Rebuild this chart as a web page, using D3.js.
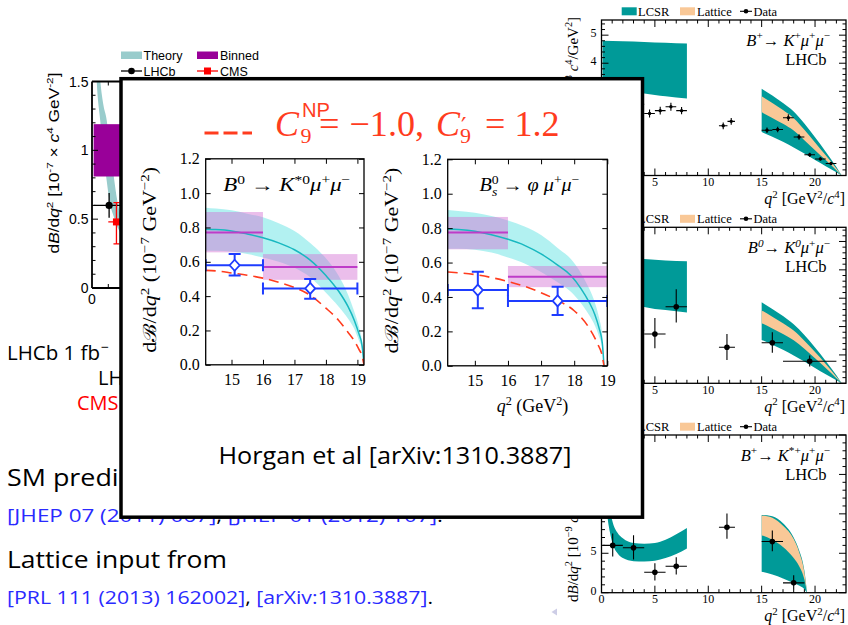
<!DOCTYPE html>
<html>
<head>
<meta charset="utf-8">
<script src="https://cdn.jsdelivr.net/npm/d3@7"></script>
<style>
  html, body { margin: 0; padding: 0; background: #fff; }
  svg { display: block; }
</style>
</head>
<body>
<svg id="slide" width="848" height="625"></svg>
<script>
// ---------- B0 -> K*0 mu mu, lowest q2 bin (left panel) ----------
const lowQ2 = [0.2, 0.3, 0.5, 0.7, 0.9, 1.1, 1.3, 1.5, 1.7, 2.0];
const lowTheoryLo = [1.75, 1.48, 1.22, 0.98, 0.78, 0.61, 0.53, 0.46, 0.41, 0.36];
const lowTheoryHi = [2.2, 1.9, 1.52, 1.33, 1.22, 1.0, 0.84, 0.67, 0.55, 0.48];
const lowBin = [0.1, 2.0];
const lowBinnedRange = [0.81, 1.19];
const lhcbLow = [1.05, 0.60, 0.51, 0.69];      // q2, value, low, high
const lhcbLowBin = [0.1, 2.0];
const cmsLow = [1.5, 0.48, 0.32, 0.62];
const cmsLowBin = [1.0, 2.0];

// ---------- LHCb differential branching fractions (right column) ----------
// B+ -> K+ mu mu  [1e-8]
const kpBins = [[0.1,0.98],[1.1,2],[2,3],[3,4],[4,5],[5,6],[6,7],[7,8],[11,11.8],[11.8,12.5],[15,16],[16,17],[17,18],[18,19],[19,20],[20,21],[21,22]];
const kpValues = [3.32,2.33,2.82,2.54,2.21,2.31,2.45,2.31,1.77,1.93,1.61,1.64,2.06,1.37,0.74,0.59,0.43];
const kpErrors = [0.18,0.15,0.16,0.15,0.14,0.14,0.14,0.13,0.12,0.12,0.10,0.10,0.12,0.10,0.07,0.06,0.05];
const kpLowQ2 = [0.1, 2, 4, 6, 8];
const kpLcsrLowHi = [4.8, 4.78, 4.76, 4.73, 4.7];
const kpLcsrLowLo = [3.3, 3.1, 2.92, 2.82, 2.74];
const highQ2K = [15, 16, 17, 18, 19, 20, 21, 22, 22.5];
const kpLcsrHi = [3.09, 2.85, 2.58, 2.28, 1.85, 1.36, 0.85, 0.3, 0];
const kpLcsrLo = [1.55, 1.38, 1.2, 1.0, 0.78, 0.55, 0.33, 0.12, 0];
const kpLatHi = [2.82, 2.58, 2.33, 2.04, 1.63, 1.18, 0.72, 0.25, 0];
const kpLatLo = [2.25, 2.05, 1.84, 1.6, 1.26, 0.9, 0.55, 0.19, 0];

// B0 -> K0 mu mu  [1e-8]
const k0Bins = [[0.1,2],[2,4],[4,6],[6,8],[11,12.5],[15,17],[17,22]];
const k0Values = [1.22,1.87,1.74,2.70,1.27,1.43,0.78];
const k0ErrLo = [0.52,0.55,0.50,0.56,0.45,0.35,0.19];
const k0ErrHi = [0.59,0.55,0.56,0.62,0.47,0.37,0.20];
const k0LowQ2 = [0.1, 2, 4, 6, 8];
const k0LcsrLowHi = [4.5, 4.45, 4.38, 4.33, 4.3];
const k0LcsrLowLo = [3.2, 2.95, 2.69, 2.58, 2.5];
const k0LcsrHi = [2.86, 2.62, 2.37, 2.08, 1.7, 1.26, 0.79, 0.28, 0];
const k0LcsrLo = [1.53, 1.36, 1.18, 0.98, 0.77, 0.54, 0.32, 0.11, 0];
const k0LatHi = [2.57, 2.35, 2.12, 1.86, 1.5, 1.1, 0.68, 0.23, 0];
const k0LatLo = [2.12, 1.93, 1.74, 1.52, 1.22, 0.88, 0.54, 0.18, 0];

// B+ -> K*+ mu mu  [1e-9]
const ksBins = [[0.1,2],[2,4],[4,6],[6,8],[11,12.5],[15,17],[17,19]];
const ksValues = [6.0,5.7,2.6,3.35,8.3,6.5,1.25];
const ksErrLo = [1.4,1.5,1.05,1.05,1.45,1.25,0.85];
const ksErrHi = [1.5,1.6,1.15,1.15,1.75,1.4,0.95];
const ksLowQ2 = [0.1,0.3,0.5,0.8,1.0,1.5,2,3,4,5,6,7,8];
const ksLcsrLowHi = [30,19,14,10.5,9.2,7.6,6.9,6.3,6.2,6.3,6.7,7.4,8.2];
const ksLcsrLowLo = [24,14.5,10.5,7.6,6.4,5.0,4.4,4.0,3.95,4.05,4.4,4.9,5.6];
const highQ2Ks = [15, 16, 17, 18, 18.5, 19, 19.25];
const ksLcsrHi = [9.85, 9.7, 8.8, 7.0, 5.4, 2.8, 0];
const ksLcsrLo = [2.66, 2.3, 1.8, 1.2, 0.9, 0.45, 0];
const ksLatHi = [9.8, 9.5, 8.5, 6.8, 5.2, 2.6, 0];
const ksLatLo = [7.3, 6.7, 5.8, 4.4, 3.4, 1.7, 0];

// ---------- high-q2 SM lattice prediction vs. data (overlay) ----------
// B0 -> K*0 mu mu  [1e-7 GeV^-2]
const kstQ2 = [14.18,14.5,15.0,15.5,16.0,16.5,17.0,17.5,18.0,18.4,18.7,18.9,19.05,19.15,19.21];
const kstSM = [0.79,0.788,0.78,0.762,0.74,0.71,0.67,0.61,0.52,0.43,0.34,0.26,0.18,0.11,0];
const kstSMHi = [0.915,0.91,0.9,0.88,0.86,0.825,0.78,0.71,0.62,0.52,0.41,0.31,0.22,0.13,0];
const kstSMLo = [0.665,0.665,0.66,0.645,0.625,0.6,0.565,0.51,0.42,0.34,0.27,0.21,0.14,0.09,0];
const kstNP = [0.55,0.547,0.535,0.522,0.505,0.48,0.45,0.405,0.33,0.26,0.19,0.14,0.09,0.05,0];
const kstBinEdges = [[14.18,16],[16,19]];
const kstBinSM = [0.77, 0.57];
const kstBinSMLo = [0.655, 0.495];
const kstBinSMHi = [0.89, 0.645];
const kstDataQ2 = [15.1, 17.5];
const kstData = [0.58, 0.445];
const kstDataLo = [0.52, 0.385];
const kstDataHi = [0.645, 0.50];

// Bs -> phi mu mu  [1e-7 GeV^-2]
const phiQ2 = [14.18,14.5,15,15.5,16,16.5,17,17.5,17.9,18.2,18.45,18.62,18.75,18.85,18.9];
const phiSM = [0.795,0.792,0.782,0.762,0.735,0.70,0.65,0.585,0.525,0.45,0.37,0.3,0.22,0.13,0];
const phiSMHi = [0.905,0.9,0.89,0.87,0.845,0.81,0.76,0.685,0.62,0.54,0.45,0.37,0.28,0.17,0];
const phiSMLo = [0.68,0.68,0.675,0.658,0.63,0.595,0.545,0.485,0.43,0.365,0.295,0.235,0.17,0.1,0];
const phiNPQ2 = [14.18,15,16,16.5,17,17.5,18,18.4,18.7,18.85,18.9];
const phiNP = [0.545,0.53,0.49,0.462,0.425,0.38,0.32,0.235,0.13,0.055,0];
const phiBinEdges = [[14.18,16],[16,19]];
const phiBinSM = [0.775, 0.518];
const phiBinSMLo = [0.677, 0.457];
const phiBinSMHi = [0.865, 0.58];
const phiDataQ2 = [15.09, 17.5];
const phiData = [0.44, 0.377];
const phiDataLo = [0.335, 0.295];
const phiDataHi = [0.546, 0.46];

const yTicksInner = [0, 0.2, 0.4, 0.6, 0.8, 1.0, 1.2];
const xTicksInner = [15, 16, 17, 18, 19];

// ---------- drawing ----------
const svg = d3.select("#slide");
const SERIF = "'Liberation Serif','DejaVu Serif',serif";
const SANS = "'Liberation Sans','DejaVu Sans',sans-serif";
const SLIDE = "'Open Sans','DejaVu Sans',sans-serif";
const TEAL = "#009a98", PEACH = "#f9c897";
const RED = "#ff3c1e", BLUE = "#1e3cff";

// text with super/subscript runs: parts = [[text, mode, dx]]
function rich(sel, parts, size) {
  let shift = 0;
  parts.forEach(([txt, mode = "", dx]) => {
    const ts = sel.append("tspan").text(txt);
    let target = 0, fs = size;
    if (mode.startsWith("sup")) { target = -0.4 * size; fs = 0.68 * size; }
    else if (mode.startsWith("sub")) { target = 0.25 * size; fs = 0.68 * size; }
    ts.attr("font-size", fs);
    if (mode.endsWith("i")) ts.attr("font-style", "italic");
    if (target !== shift) { ts.attr("dy", target - shift); shift = target; }
    if (dx) ts.attr("dx", dx);
  });
  return sel;
}
function label(parent, x, y, o = {}) {
  const t = parent.append("text").attr("x", x).attr("y", y)
    .attr("font-family", o.family || SERIF).attr("font-size", o.size || 12)
    .attr("fill", o.fill || "#000").attr("text-anchor", o.anchor || "start");
  if (o.italic) t.attr("font-style", "italic");
  if (o.transform) t.attr("transform", o.transform).attr("x", 0).attr("y", 0);
  if (o.text !== undefined) t.text(o.text);
  if (o.parts) rich(t, o.parts, o.size || 12);
  if (o.len) t.attr("textLength", o.len).attr("lengthAdjust", "spacingAndGlyphs");
  if (o.stretch) t.attr("textLength", t.node().getComputedTextLength() * o.stretch).attr("lengthAdjust", "spacingAndGlyphs");
  return t;
}
function seg(parent, x1, y1, x2, y2, color, w) {
  return parent.append("line").attr("x1", x1).attr("y1", y1).attr("x2", x2).attr("y2", y2)
    .attr("stroke", color).attr("stroke-width", w);
}

// ===== left: LHCb 1/fb & CMS vs theory, low q2 =====
(function () {
  const g = svg.append("g");
  const x = d3.scaleLinear().domain([0, 19]).range([92, 92 + 19 * 16.3]);
  const y = d3.scaleLinear().domain([0, 1.5]).range([288, 81.5]);
  g.append("clipPath").attr("id", "clipLow").append("rect")
    .attr("x", x(0)).attr("y", y(1.5)).attr("width", x(19) - x(0)).attr("height", y(0) - y(1.5));
  const p = g.append("g").attr("clip-path", "url(#clipLow)");
  p.append("path")
    .attr("d", d3.area().x(q => x(q)).y0((q, i) => y(lowTheoryLo[i])).y1((q, i) => y(lowTheoryHi[i]))
      .curve(d3.curveMonotoneX)(lowQ2))
    .attr("fill", "#99cccc");
  p.append("rect").attr("x", x(lowBin[0])).attr("width", x(lowBin[1]) - x(lowBin[0]))
    .attr("y", y(lowBinnedRange[1])).attr("height", y(lowBinnedRange[0]) - y(lowBinnedRange[1]))
    .attr("fill", "#990099");
  // LHCb
  seg(p, x(lhcbLowBin[0]), y(lhcbLow[1]), x(lhcbLowBin[1]), y(lhcbLow[1]), "#000", 1.3);
  seg(p, x(lhcbLow[0]), y(lhcbLow[2]), x(lhcbLow[0]), y(lhcbLow[3]), "#000", 1.3);
  p.append("circle").attr("cx", x(lhcbLow[0])).attr("cy", y(lhcbLow[1])).attr("r", 3.6).attr("fill", "#000");
  // CMS
  seg(p, x(cmsLowBin[0]), y(cmsLow[1]), x(cmsLowBin[1]), y(cmsLow[1]), "#ff0000", 1.3);
  seg(p, x(cmsLow[0]), y(cmsLow[2]), x(cmsLow[0]), y(cmsLow[3]), "#ff0000", 1.3);
  seg(p, x(cmsLow[0]) - 3, y(cmsLow[2]), x(cmsLow[0]) + 3, y(cmsLow[2]), "#ff0000", 1.3);
  seg(p, x(cmsLow[0]) - 3, y(cmsLow[3]), x(cmsLow[0]) + 3, y(cmsLow[3]), "#ff0000", 1.3);
  p.append("rect").attr("x", x(cmsLow[0]) - 3.5).attr("y", y(cmsLow[1]) - 3.5)
    .attr("width", 7).attr("height", 7).attr("fill", "#ff0000");
  // frame
  seg(g, x(0), y(0), x(0), y(1.5), "#000", 1.8);
  seg(g, x(0), y(1.5), x(19), y(1.5), "#000", 1.8);
  seg(g, x(0), y(0), x(19), y(0), "#000", 1.8);
  d3.range(0, 16).forEach(k => {
    const v = k / 10, len = k % 5 === 0 ? 6 : 3.5;
    seg(g, x(0), y(v), x(0) + len, y(v), "#000", 1);
  });
  d3.range(1, 19).forEach(q => {
    seg(g, x(q), y(0), x(q), y(0) - 4, "#000", 1);
    seg(g, x(q), y(1.5), x(q), y(1.5) + 4, "#000", 1);
  });
  [[0, "0"], [0.5, "0.5"], [1, "1"], [1.5, "1.5"]].forEach(([v, s]) =>
    label(g, 88.5, y(v) + 5, { text: s, family: SANS, size: 14, anchor: "end" }));
  label(g, x(0), 304, { text: "0", family: SANS, size: 14, anchor: "middle" });
  label(g, 0, 0, {
    family: SANS, size: 14.5, anchor: "middle", transform: "translate(59,163) rotate(-90)", len: 181,
    parts: [["d"], ["B", "i"], ["/d"], ["q", "i"], ["2", "sup"], [" [10"], ["-7", "sup"], [" \u00d7 "],
      ["c", "i"], ["4", "sup"], [" GeV"], ["-2", "sup"], ["]"]]
  });
  // legend
  g.append("rect").attr("x", 121).attr("y", 51.5).attr("width", 21).attr("height", 7.5).attr("fill", "#99cccc");
  label(g, 143.5, 60, { text: "Theory", family: SANS, size: 12.5 });
  g.append("rect").attr("x", 197).attr("y", 51.5).attr("width", 21).attr("height", 7.5).attr("fill", "#990099");
  label(g, 220, 60, { text: "Binned", family: SANS, size: 12.5 });
  seg(g, 121, 71, 142, 71, "#000", 1.3);
  g.append("circle").attr("cx", 131.5).attr("cy", 71).attr("r", 3.3).attr("fill", "#000");
  label(g, 143.5, 75.5, { text: "LHCb", family: SANS, size: 12.5 });
  seg(g, 197, 71, 218, 71, "#ff0000", 1.3);
  g.append("rect").attr("x", 204).attr("y", 67.5).attr("width", 7).attr("height", 7).attr("fill", "#ff0000");
  label(g, 220, 75.5, { text: "CMS", family: SANS, size: 12.5 });
})();

// ===== right column: LHCb B -> K(*) mu mu spectra =====
const rx = d3.scaleLinear().domain([0, 22.9]).range([601.5, 846]);
function lhcbPanel(p) {
  const g = svg.append("g");
  const y = d3.scaleLinear().domain([0, p.yMax]).range([p.bottom, p.top]);
  g.append("clipPath").attr("id", p.id).append("rect")
    .attr("x", rx(0)).attr("y", p.top).attr("width", rx(22.9) - rx(0)).attr("height", p.bottom - p.top);
  const plot = g.append("g").attr("clip-path", `url(#${p.id})`);
  const band = (qs, lo, hi) => d3.area().x(q => rx(q)).y0((q, i) => y(lo[i])).y1((q, i) => y(hi[i]))
    .curve(d3.curveMonotoneX)(qs);
  plot.append("path").attr("d", band(p.lowQ2, p.lowLo, p.lowHi)).attr("fill", TEAL);
  plot.append("path").attr("d", band(p.highQ2, p.lcsrLo, p.lcsrHi)).attr("fill", TEAL);
  plot.append("path").attr("d", band(p.highQ2, p.latLo, p.latHi)).attr("fill", PEACH);
  p.bins.forEach((b, i) => {
    const v = p.values[i], xc = rx((b[0] + b[1]) / 2);
    seg(plot, rx(b[0]), y(v), rx(b[1]), y(v), "#000", 1.1);
    seg(plot, xc, y(v - p.errLo[i]), xc, y(v + p.errHi[i]), "#000", 1.1);
    plot.append("circle").attr("cx", xc).attr("cy", y(v)).attr("r", p.markR).attr("fill", "#000");
  });
  g.append("rect").attr("x", rx(0)).attr("y", p.top).attr("width", rx(22.9) - rx(0))
    .attr("height", p.bottom - p.top).attr("fill", "none").attr("stroke", "#000").attr("stroke-width", 1.3);
  d3.range(0, 23).forEach(q => {
    const len = q % 5 === 0 ? 7 : 3.5;
    seg(g, rx(q), p.bottom, rx(q), p.bottom - len, "#000", 1);
    seg(g, rx(q), p.top, rx(q), p.top + len, "#000", 1);
  });
  const nMinor = Math.floor(p.yMax / p.yMinor + 1e-6);
  d3.range(0, nMinor + 1).forEach(k => {
    const v = k * p.yMinor;
    const r = v / p.yMajor, len = Math.abs(r - Math.round(r)) < 1e-6 ? 7 : 3.5;
    seg(g, rx(0), y(v), rx(0) + len, y(v), "#000", 1);
    seg(g, rx(22.9), y(v), rx(22.9) - len, y(v), "#000", 1);
  });
  p.xTickLabels.forEach(q => label(g, rx(q), p.bottom + 10.5, { text: q, size: 12, anchor: "middle" }));
  d3.range(0, p.yMax + 1e-6, p.yMajor).forEach(v =>
    label(g, 596.5, y(v) + 2, { text: v, size: 12, anchor: "end" }));
  label(g, 845, p.bottom + 28.5, {
    size: 16, anchor: "end",
    parts: [["q", "i"], ["2", "sup"], [" [GeV"], ["2", "sup"], ["/"], ["c", "i"], ["4", "sup"], ["]"]]
  });
  label(g, 0, 0, {
    size: 15, anchor: p.yLabAnchor, transform: p.yLabPos,
    parts: [["d"], ["B", "i"], ["/d"], ["q", "i"], ["2", "sup"], [" [10"], [p.yUnit, "sup"], [" "],
      ["c", "i"], ["4", "sup"], ["/GeV"], ["2", "sup"], ["]"]]
  });
  label(g, 830, p.top + 26, { size: 16.5, anchor: "end", parts: p.title });
  label(g, 826.5, p.top + 45, { text: "LHCb", size: 16.5, anchor: "end" });
  // legend
  const ly = p.legendY;
  g.append("rect").attr("x", 621.7).attr("y", ly - 4).attr("width", 15).attr("height", 8).attr("fill", TEAL);
  label(g, 638, ly + 4.5, { text: "LCSR", size: 12.5 });
  g.append("rect").attr("x", 680).attr("y", ly - 4).attr("width", 15).attr("height", 8).attr("fill", PEACH);
  label(g, 697, ly + 4.5, { text: "Lattice", size: 12.5 });
  seg(g, 740, ly, 752, ly, "#000", 1.1);
  g.append("circle").attr("cx", 746).attr("cy", ly).attr("r", 2.3).attr("fill", "#000");
  label(g, 753.5, ly + 4.5, { text: "Data", size: 12.5 });
}

lhcbPanel({
  id: "clipKp", top: 20, bottom: 175.5, yMax: 5.54, yMajor: 1, yMinor: 0.2, legendY: 11.3,
  xTickLabels: [5, 10, 15, 20],
  lowQ2: kpLowQ2, lowLo: kpLcsrLowLo, lowHi: kpLcsrLowHi,
  highQ2: highQ2K, lcsrLo: kpLcsrLo, lcsrHi: kpLcsrHi, latLo: kpLatLo, latHi: kpLatHi,
  bins: kpBins, values: kpValues, errLo: kpErrors, errHi: kpErrors, markR: 1.7,
  yUnit: "\u22128", yLabAnchor: "end", yLabPos: "translate(578,17) rotate(-90)",
  title: [["B", "i"], ["+", "sup"], ["\u2192 "], ["K", "i"], ["+", "sup"], ["\u03bc", "i"], ["+", "sup"], ["\u03bc", "i"], ["\u2212", "sup"]]
});
lhcbPanel({
  id: "clipK0", top: 227.3, bottom: 383.3, yMax: 5.5, yMajor: 1, yMinor: 0.2, legendY: 218.8,
  xTickLabels: [5, 10, 15, 20],
  lowQ2: k0LowQ2, lowLo: k0LcsrLowLo, lowHi: k0LcsrLowHi,
  highQ2: highQ2K, lcsrLo: k0LcsrLo, lcsrHi: k0LcsrHi, latLo: k0LatLo, latHi: k0LatHi,
  bins: k0Bins, values: k0Values, errLo: k0ErrLo, errHi: k0ErrHi, markR: 2.8,
  yUnit: "\u22128", yLabAnchor: "middle", yLabPos: "translate(578,305) rotate(-90)",
  title: [["B", "i"], ["0", "supi"], ["\u2192 "], ["K", "i"], ["0", "supi"], ["\u03bc", "i"], ["+", "sup"], ["\u03bc", "i"], ["\u2212", "sup"]]
});
lhcbPanel({
  id: "clipKs", top: 435, bottom: 592.7, yMax: 20, yMajor: 5, yMinor: 1, legendY: 426.7,
  xTickLabels: [0, 5, 10, 15, 20],
  lowQ2: ksLowQ2, lowLo: ksLcsrLowLo, lowHi: ksLcsrLowHi,
  highQ2: highQ2Ks, lcsrLo: ksLcsrLo, lcsrHi: ksLcsrHi, latLo: ksLatLo, latHi: ksLatHi,
  bins: ksBins, values: ksValues, errLo: ksErrLo, errHi: ksErrHi, markR: 2.8,
  yUnit: "\u22129", yLabAnchor: "start", yLabPos: "translate(578,602) rotate(-90)",
  title: [["B", "i"], ["+", "sup"], ["\u2192 "], ["K", "i"], ["*+", "sup"], ["\u03bc", "i"], ["+", "sup"], ["\u03bc", "i"], ["\u2212", "sup"]]
});

// ===== slide text =====
const txt = svg.append("g");
label(txt, 7, 360, { family: SLIDE, size: 20, len: 93, text: "LHCb 1 fb" });
label(txt, 101, 352, { family: SLIDE, size: 14, text: "\u2212" });
label(txt, 98, 385, { family: SLIDE, size: 20, text: "LHCb" });
label(txt, 77, 410, { family: SLIDE, size: 20, text: "CMS", fill: "#ff0000" });
label(txt, 7, 486, { family: SLIDE, size: 24, stretch: 1.12, text: "SM predictions from" });
const ref1 = label(txt, 7, 522, { family: SLIDE, size: 19 });
ref1.append("tspan").attr("fill", "#2a2aff").text("[JHEP 07 (2011) 067]");
ref1.append("tspan").text(", ");
ref1.append("tspan").attr("fill", "#2a2aff").text("[JHEP 01 (2012) 107]");
ref1.append("tspan").text(".");
ref1.attr("textLength", 436).attr("lengthAdjust", "spacingAndGlyphs");
label(txt, 7, 567.5, { family: SLIDE, size: 24, len: 220, text: "Lattice input from" });
const ref2 = label(txt, 7, 604, { family: SLIDE, size: 19 });
ref2.append("tspan").attr("fill", "#2a2aff").text("[PRL 111 (2013) 162002]");
ref2.append("tspan").text(", ");
ref2.append("tspan").attr("fill", "#2a2aff").text("[arXiv:1310.3887]");
ref2.append("tspan").text(".");
ref2.attr("textLength", 426).attr("lengthAdjust", "spacingAndGlyphs");
txt.append("path").attr("d", "M551.5,612 L557,608.5 L557,615.5 Z").attr("fill", "#cdcde6");

// ===== overlay: lattice SM vs. data at high q2 =====
const pop = svg.append("g");
pop.append("rect").attr("x", 121).attr("y", 78.7).attr("width", 521.5).attr("height", 438.5)
  .attr("fill", "#fff").attr("stroke", "#000").attr("stroke-width", 3.5);

// legend line for the NP scenario
seg(pop, 204.5, 133, 252, 133, RED, 3).attr("stroke-dasharray", "14,5");
label(pop, 275, 136, { text: "C", size: 35, italic: true, fill: RED, len: 24 });
label(pop, 302, 117.3, { text: "NP", size: 21, family: SANS, fill: RED, len: 28 });
label(pop, 300.5, 142.6, { text: "9", size: 22, fill: RED });
label(pop, 319, 136, { text: "=", size: 35, fill: RED, len: 20.5 });
label(pop, 349.5, 136, { text: "\u22121.0,", size: 35, fill: RED, len: 74.5 });
label(pop, 436, 136, { text: "C", size: 35, italic: true, fill: RED, len: 24 });
label(pop, 461, 135, { text: "\u2032", size: 24, family: "'DejaVu Serif',serif", fill: RED });
label(pop, 460, 142.6, { text: "9", size: 22, fill: RED });
label(pop, 485, 136, { text: "= 1.2", size: 35, fill: RED, len: 74.5 });

function innerPlot(p) {
  const g = pop.append("g");
  const x = d3.scaleLinear().domain(p.xDomain).range([p.left, p.right]);
  const y = d3.scaleLinear().domain([0, 1.2]).range([p.bottom, p.top]);
  g.append("clipPath").attr("id", p.id).append("rect")
    .attr("x", p.left).attr("y", p.top).attr("width", p.right - p.left).attr("height", p.bottom - p.top);
  const c = g.append("g").attr("clip-path", `url(#${p.id})`);
  c.append("path")
    .attr("d", d3.area().x(q => x(q)).y0((q, i) => y(p.smLo[i])).y1((q, i) => y(p.smHi[i]))
      .curve(d3.curveMonotoneX)(p.q2))
    .attr("fill", "#00d2d2").attr("fill-opacity", 0.3);
  p.bins.forEach((b, i) => {
    c.append("rect").attr("x", x(b[0])).attr("width", x(b[1]) - x(b[0]))
      .attr("y", y(p.binHi[i])).attr("height", y(p.binLo[i]) - y(p.binHi[i]))
      .attr("fill", "#d26ed2").attr("fill-opacity", 0.45);
  });
  c.append("path")
    .attr("d", d3.line().x(q => x(q)).y((q, i) => y(p.sm[i])).curve(d3.curveMonotoneX)(p.q2))
    .attr("fill", "none").attr("stroke", "#18b8c0").attr("stroke-width", 1.5);
  p.bins.forEach((b, i) => seg(c, x(b[0]), y(p.binSM[i]), x(b[1]), y(p.binSM[i]), "#be3cc8", 2));
  c.append("path")
    .attr("d", d3.line().x(q => x(q)).y((q, i) => y(p.np[i])).curve(d3.curveMonotoneX)(p.npQ2))
    .attr("fill", "none").attr("stroke", RED).attr("stroke-width", 1.6).attr("stroke-dasharray", "10,6");
  p.bins.forEach((b, i) => {
    const xc = x(p.dataQ2[i]), yc = y(p.data[i]);
    seg(c, x(b[0]), yc, x(b[1]), yc, BLUE, 2);
    [b[0], b[1]].forEach(e => seg(c, x(e), yc - 6, x(e), yc + 6, BLUE, 2));
    seg(c, xc, y(p.dataLo[i]), xc, y(p.dataHi[i]), BLUE, 2);
    [p.dataLo[i], p.dataHi[i]].forEach(v => seg(c, xc - 6, y(v), xc + 6, y(v), BLUE, 2));
    c.append("path").attr("d", `M${xc},${yc - 5.5}L${xc + 5},${yc}L${xc},${yc + 5.5}L${xc - 5},${yc}Z`)
      .attr("fill", "#fff").attr("stroke", BLUE).attr("stroke-width", 1.8);
  });
  // axes (ticks pointing inward on all four sides)
  const style = a => {
    a.select(".domain").remove();
    a.selectAll("text").attr("font-family", SERIF).attr("font-size", 16).attr("fill", "#000");
    a.selectAll("line").attr("stroke", "#000");
  };
  g.append("g").attr("transform", `translate(0,${p.bottom})`)
    .call(d3.axisBottom(x).tickValues(xTicksInner).tickSizeInner(-5).tickSizeOuter(0).tickPadding(9).tickFormat(d3.format("d")))
    .call(style);
  g.append("g").attr("transform", `translate(0,${p.top})`)
    .call(d3.axisTop(x).tickValues(xTicksInner).tickSizeInner(-5).tickSizeOuter(0).tickFormat(""))
    .call(style);
  g.append("g").attr("transform", `translate(${p.left},0)`)
    .call(d3.axisLeft(y).tickValues(yTicksInner).tickSizeInner(-5).tickSizeOuter(0).tickPadding(6).tickFormat(d3.format(".1f")))
    .call(style);
  g.append("g").attr("transform", `translate(${p.right},0)`)
    .call(d3.axisRight(y).tickValues(yTicksInner).tickSizeInner(-5).tickSizeOuter(0).tickFormat(""))
    .call(style);
  g.append("rect").attr("x", p.left).attr("y", p.top).attr("width", p.right - p.left)
    .attr("height", p.bottom - p.top).attr("fill", "none").attr("stroke", "#000").attr("stroke-width", 1.3);
  label(g, (p.left + p.right) / 2 + 2, p.top + 32, { size: 18, anchor: "middle", parts: p.title, len: p.titleLen });
  label(g, 0, 0, {
    size: 18, anchor: "middle", transform: `translate(${p.left - 50},${(p.top + p.bottom) / 2 - 2}) rotate(-90)`, len: 186,
    parts: [["d"], ["\u212c"], ["/d"], ["q", "i"], ["2", "sup"], ["  (10"], ["\u22127", "sup"], [" GeV"], ["\u22122", "sup"], [")"]]
  });
  if (p.xLabel) {
    label(g, (p.left + p.right) / 2 + 5, 412, {
      size: 18, anchor: "middle", parts: [["q", "i"], ["2", "sup"], ["  (GeV"], ["2", "sup"], [")"]]
    });
  }
}

innerPlot({
  id: "clipKst", left: 205.7, right: 364, top: 158.8, bottom: 364.8, xDomain: [14.18, 19.21],
  q2: kstQ2, sm: kstSM, smLo: kstSMLo, smHi: kstSMHi, npQ2: kstQ2, np: kstNP,
  bins: kstBinEdges, binSM: kstBinSM, binLo: kstBinSMLo, binHi: kstBinSMHi,
  dataQ2: kstDataQ2, data: kstData, dataLo: kstDataLo, dataHi: kstDataHi, titleLen: 127,
  title: [["B", "i"], ["0", "sup"], [" \u2192 "], ["K", "i"], ["*0", "sup"], ["\u03bc", "i"], ["+", "sup"], ["\u03bc", "i"], ["\u2212", "sup"]]
});
innerPlot({
  id: "clipPhi", left: 447.7, right: 607.3, top: 159.3, bottom: 365.8, xDomain: [14.18, 19.0], xLabel: true,
  q2: phiQ2, sm: phiSM, smLo: phiSMLo, smHi: phiSMHi, npQ2: phiNPQ2, np: phiNP,
  bins: phiBinEdges, binSM: phiBinSM, binLo: phiBinSMLo, binHi: phiBinSMHi,
  dataQ2: phiDataQ2, data: phiData, dataLo: phiDataLo, dataHi: phiDataHi, titleLen: 100,
  title: [["B", "i"], ["0", "sup"], ["s", "subi", -6], [" \u2192 "], ["\u03c6", "i"], [" \u03bc", "i"], ["+", "sup"], ["\u03bc", "i"], ["\u2212", "sup"]]
});

label(pop, 395, 464, { family: SLIDE, size: 24, len: 353, anchor: "middle", text: "Horgan et al [arXiv:1310.3887]" });
</script>
</body>
</html>
